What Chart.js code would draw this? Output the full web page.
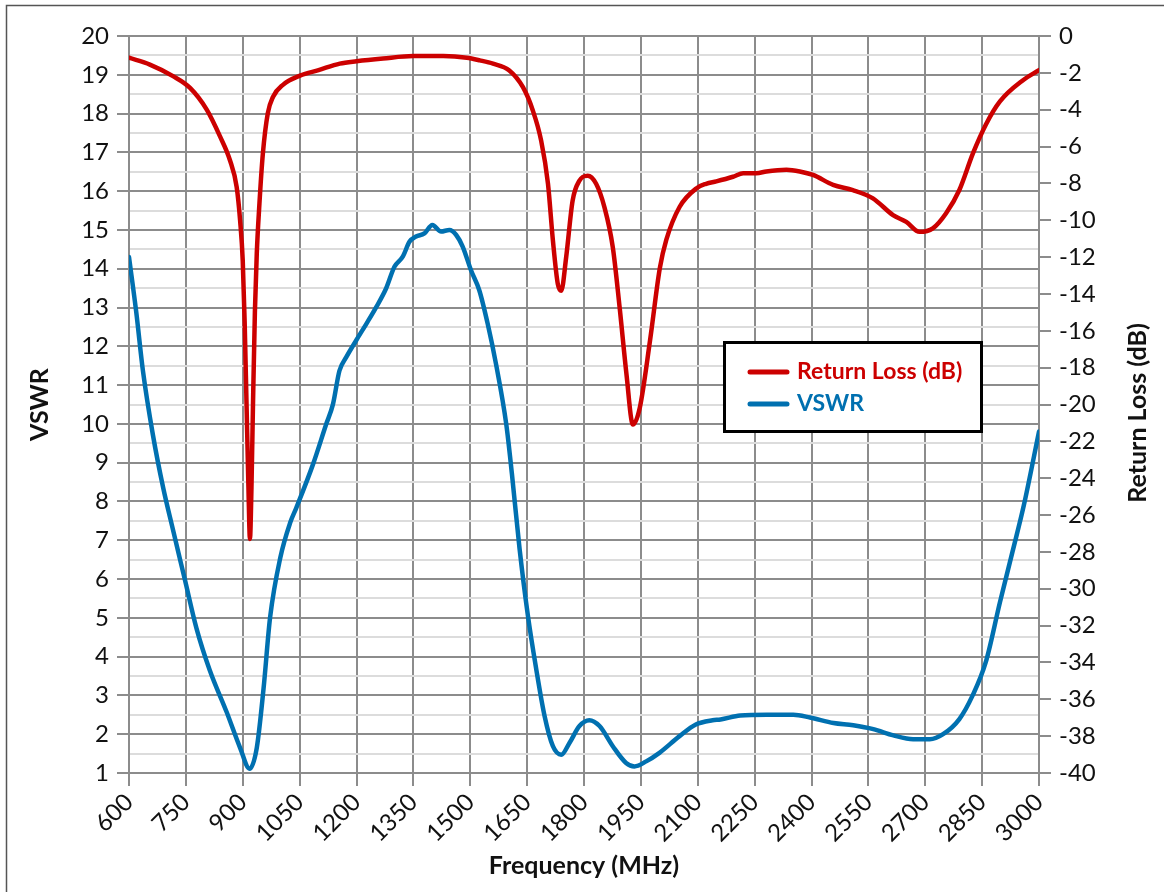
<!DOCTYPE html>
<html><head><meta charset="utf-8">
<script src="https://cdn.jsdelivr.net/npm/chart.js@4/dist/chart.umd.min.js"></script>
<style>
html,body{margin:0;padding:0;background:#fff;}
canvas{display:block;}
</style></head><body>
<canvas id="c" width="1164" height="892"></canvas>
<script>
// ---- data ----
const rlFreq = [600,655,716,761,805,840,866,884,893,900,905,910,915,919,923,927,932,937,944,953,966,980,1006,1051,1100,1156,1200,1270,1350,1429,1491,1525,1560,1603,1639,1665,1687,1705,1718,1731,1740,1753,1770,1788,1810,1832,1854,1876,1894,1912,1929,1947,1974,2000,2017,2052,2097,2122,2149,2193,2220,2255,2281,2334,2369,2404,2457,2509,2562,2615,2650,2685,2720,2755,2790,2826,2860,2897,2957,3000];
const rlValues = [-1.18,-1.55,-2.18,-2.82,-4.0,-5.45,-6.73,-8.2,-10.0,-12.2,-15.5,-20.0,-24.5,-27.3,-24.5,-20.0,-15.0,-11.8,-9.1,-6.4,-4.2,-3.3,-2.65,-2.15,-1.85,-1.5,-1.37,-1.22,-1.09,-1.09,-1.18,-1.32,-1.5,-1.87,-2.78,-4.04,-5.68,-8.02,-11.1,-13.47,-13.83,-12.0,-8.93,-7.85,-7.58,-8.02,-9.3,-11.47,-14.74,-18.36,-21.09,-20.19,-16.55,-12.6,-11.07,-9.28,-8.26,-8.02,-7.89,-7.64,-7.45,-7.45,-7.35,-7.26,-7.35,-7.54,-8.08,-8.36,-8.81,-9.72,-10.09,-10.63,-10.44,-9.62,-8.36,-6.36,-4.8,-3.55,-2.41,-1.85];
const vswrFreq = [600,619,637,663,690,716,747,778,813,858,893,918,937,955,972,999,1025,1041,1085,1120,1138,1155,1173,1199,1226,1252,1278,1300,1322,1340,1357,1379,1400,1423,1445,1463,1480,1502,1524,1546,1568,1595,1610,1630,1652,1674,1696,1718,1740,1762,1788,1814,1841,1876,1911,1933,1964,1999,2052,2095,2139,2160,2212,2282,2352,2396,2458,2510,2563,2616,2668,2712,2747,2790,2825,2860,2897,2930,2960,3000];
const vswrValues = [14.30,12.89,11.35,9.72,8.36,7.27,6.0,4.73,3.65,2.56,1.65,1.11,1.65,3.19,5.0,6.55,7.45,7.83,8.95,9.99,10.51,11.37,11.72,12.15,12.58,13.01,13.49,14.05,14.31,14.70,14.83,14.91,15.13,14.96,15.0,14.87,14.57,13.96,13.44,12.58,11.54,9.99,8.7,6.79,5.06,3.68,2.47,1.69,1.47,1.78,2.21,2.36,2.21,1.69,1.26,1.17,1.30,1.52,1.95,2.25,2.36,2.38,2.48,2.50,2.50,2.43,2.29,2.23,2.13,1.97,1.87,1.87,2.0,2.39,3.0,3.87,5.4,6.7,7.9,9.8];
const xTicks = [600,750,900,1050,1200,1350,1500,1650,1800,1950,2100,2250,2400,2550,2700,2850,3000];
const vswrTicks = [1,2,3,4,5,6,7,8,9,10,11,12,13,14,15,16,17,18,19,20];
const rlTicks = [-40,-38,-36,-34,-32,-30,-28,-26,-24,-22,-20,-18,-16,-14,-12,-10,-8,-6,-4,-2,0];
const seriesNames = ['Return Loss (dB)', 'VSWR'];
const xTitle = 'Frequency (MHz)';
const leftTitle = 'VSWR';
const rightTitle = 'Return Loss (dB)';

// ---- styles ----
const RED = '#cc0000', BLUE = '#0070b0';
const MAJOR = '#8c8c8c', MINOR = '#dcdcdc';
const FAM = 'Lato, "Open Sans", sans-serif';
Chart.defaults.font.family = FAM;
Chart.defaults.color = '#111';

const tickFont = {family: FAM, size: 24};
const titleFont = {family: FAM, size: 25, weight: 'bold'};

function zeroPad(s){ s.paddingLeft=0; s.paddingRight=0; s.paddingTop=0; s.paddingBottom=0; }

const framePlugin = {
  id: 'frame',
  beforeDraw(chart){
    const ctx = chart.ctx;
    ctx.save();
    ctx.fillStyle = '#fff';
    ctx.fillRect(0,0,chart.width,chart.height);
    ctx.strokeStyle = '#555';
    ctx.lineWidth = 1.5;
    ctx.strokeRect(6.5, 5.5, 1300, 1000);
    ctx.restore();
  }
};

const extrasPlugin = {
  id: 'extras',
  afterDraw(chart){
    const ctx = chart.ctx;
    ctx.save();
    // right axis title, reading bottom to top
    ctx.font = 'bold 25px ' + FAM;
    ctx.fillStyle = '#111';
    ctx.textAlign = 'center';
    ctx.textBaseline = 'middle';
    ctx.translate(1138, 413);
    ctx.rotate(-Math.PI/2);
    ctx.fillText(rightTitle, 0, 0);
    ctx.restore();

    // legend box
    ctx.save();
    ctx.fillStyle = '#fff';
    ctx.fillRect(724, 342, 258, 90);
    ctx.strokeStyle = '#000';
    ctx.lineWidth = 3;
    ctx.strokeRect(724.5, 342.5, 257, 89);
    const items = [[seriesNames[0], RED, 372], [seriesNames[1], BLUE, 404]];
    ctx.lineCap = 'round';
    ctx.font = 'bold 23px ' + FAM;
    ctx.textAlign = 'left';
    ctx.textBaseline = 'middle';
    items.forEach(([t, c, y]) => {
      ctx.strokeStyle = c;
      ctx.lineWidth = 5;
      ctx.beginPath(); ctx.moveTo(750, y); ctx.lineTo(787, y); ctx.stroke();
      ctx.fillStyle = c;
      ctx.fillText(t, 797, y);
    });
    ctx.restore();
  }
};

new Chart(document.getElementById('c'), {
  type: 'line',
  data: {
    datasets: [
      {
        label: seriesNames[0],
        data: rlFreq.map((f, i) => ({x: f, y: rlValues[i]})),
        yAxisID: 'y1',
        borderColor: RED,
        backgroundColor: RED,
        borderWidth: 4.5,
        pointRadius: 0,
        cubicInterpolationMode: 'monotone',
        borderCapStyle: 'round',
        borderJoinStyle: 'round'
      },
      {
        label: seriesNames[1],
        data: vswrFreq.map((f, i) => ({x: f, y: vswrValues[i]})),
        yAxisID: 'y',
        borderColor: BLUE,
        backgroundColor: BLUE,
        borderWidth: 4.5,
        pointRadius: 0,
        cubicInterpolationMode: 'monotone',
        borderCapStyle: 'round',
        borderJoinStyle: 'round'
      }
    ]
  },
  options: {
    responsive: false,
    animation: false,
    devicePixelRatio: 1,
    layout: {padding: {left: 20, right: 0, top: 36, bottom: 10}},
    plugins: {legend: {display: false}, tooltip: {enabled: false}},
    scales: {
      x: {
        type: 'linear',
        min: 600, max: 3000,
        afterBuildTicks: s => { s.ticks = xTicks.map(v => ({value: v})); },
        afterFit: s => { s.height = 109; zeroPad(s); },
        ticks: {autoSkip: false, minRotation: 45, maxRotation: 45, font: tickFont, color: '#111', padding: 2,
                callback: v => String(v)},
        grid: {color: MAJOR, lineWidth: 2, tickLength: 13, tickColor: MAJOR, tickWidth: 2},
        border: {display: true, color: MAJOR, width: 2},
        title: {display: true, text: xTitle, font: titleFont, color: '#111', padding: {top: 0, bottom: 1}}
      },
      y: {
        type: 'linear',
        position: 'left',
        min: 1, max: 20,
        afterBuildTicks: s => {
          const t = [];
          vswrTicks.forEach((v, i) => {
            t.push({value: v});
            if (i < vswrTicks.length - 1) t.push({value: (v + vswrTicks[i + 1]) / 2});
          });
          s.ticks = t;
        },
        afterFit: s => { s.width = 109; zeroPad(s); },
        ticks: {autoSkip: false, font: tickFont, color: '#111', padding: 8,
                callback: v => Number.isInteger(v) ? String(v) : ''},
        grid: {
          color: c => Number.isInteger(c.tick.value) ? MAJOR : MINOR,
          lineWidth: 2,
          tickLength: 12,
          tickColor: c => Number.isInteger(c.tick.value) ? MAJOR : 'rgba(0,0,0,0)',
          tickWidth: 2
        },
        border: {display: true, color: MAJOR, width: 2},
        title: {display: true, text: leftTitle, font: titleFont, color: '#111', padding: {top: 5, bottom: 0}}
      },
      y1: {
        type: 'linear',
        position: 'right',
        min: -40, max: 0,
        afterBuildTicks: s => { s.ticks = rlTicks.map(v => ({value: v})); },
        afterFit: s => { s.width = 125; zeroPad(s); },
        ticks: {autoSkip: false, font: tickFont, color: '#111', padding: 8},
        grid: {drawOnChartArea: false, tickLength: 12, tickColor: MAJOR, tickWidth: 2, lineWidth: 2, color: MAJOR},
        border: {display: true, color: MAJOR, width: 2},
        title: {display: false}
      }
    }
  },
  plugins: [framePlugin, extrasPlugin]
});
</script>
</body></html>
